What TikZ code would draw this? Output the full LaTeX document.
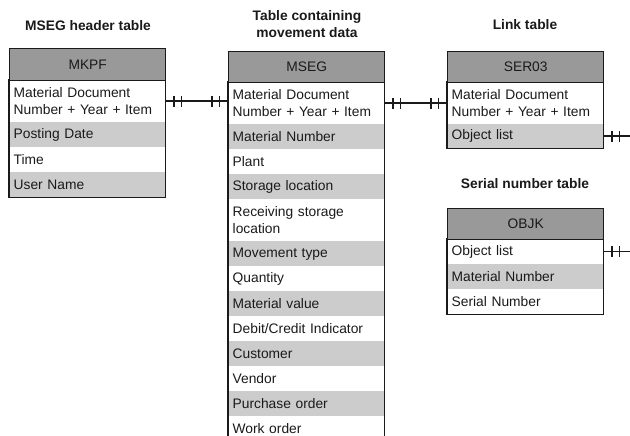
\documentclass[tikz,border=0pt]{standalone}
\usepackage{fontspec}
\setmainfont{Liberation Sans}
\usetikzlibrary{decorations.markings}
\definecolor{hdr}{HTML}{999999}
\definecolor{rowg}{HTML}{CCCCCC}
\definecolor{ink}{HTML}{1A1A1A}
\tikzset{
  row/.style={rectangle, anchor=north west, inner xsep=4.5pt, inner ysep=0pt,
    text width=147pt, align=left, font=\fontsize{13.8}{16.5}\selectfont, text=ink},
  hdrbox/.style={rectangle, anchor=north west, inner sep=0pt, minimum width=156pt,
    fill=hdr, draw=ink, line width=1.4pt, align=center,
    font=\fontsize{13.8}{16.5}\selectfont, text=ink},
  ttl/.style={align=center, font=\bfseries\fontsize{13.8}{16.5}\selectfont, text=ink},
  border/.style={draw=ink, line width=1.4pt},
  link/.style={draw=ink, line width=1.5pt},
  twobar/.style={postaction={decorate, decoration={markings,
    mark=at position 8.5pt with {\draw[ink, line width=1.4pt] (0,-5.5pt) -- (0,5.5pt);},
    mark=at position 16pt with {\draw[ink, line width=1.4pt] (0,-5.5pt) -- (0,5.5pt);}}}},
  twobarend/.style={postaction={decorate, decoration={markings,
    mark=at position -8.5pt with {\draw[ink, line width=1.4pt] (0,-5.5pt) -- (0,5.5pt);},
    mark=at position -16pt with {\draw[ink, line width=1.4pt] (0,-5.5pt) -- (0,5.5pt);}}}}
}
\begin{document}
\begin{tikzpicture}[x=1pt, y=-1pt]
\useasboundingbox (0,0) rectangle (630,436);
\coordinate (rightedge) at (630,0);

% titles
\node[ttl] (t1) at (88,26) {MSEG header table};
\node[ttl] (t2) at (307,24) {Table containing\\movement data};
\node[ttl] (t3) at (525,25) {Link table};
\node[ttl] (t4) at (525,184) {Serial number table};

% MKPF
\node[row, minimum height=42pt] (mkpf1) at (9,80) {Material Document\\Number + Year + Item};
\node[row, fill=rowg, minimum height=25pt] (mkpf2) at (9,122) {Posting Date};
\node[row, minimum height=25pt] (mkpf3) at (9,147) {Time};
\node[row, fill=rowg, minimum height=25pt] (mkpf4) at (9,172) {User Name};
\draw[border] (mkpf1.north west) rectangle (mkpf4.south east);
\node[hdrbox, minimum height=32pt] (mkpfh) at (9,48) {MKPF};

% MSEG
\node[row, minimum height=42pt] (mseg1) at (228,82) {Material Document\\Number + Year + Item};
\node[row, fill=rowg, minimum height=25pt] (mseg2) at (228,124) {Material Number};
\node[row, minimum height=25pt] (mseg3) at (228,149) {Plant};
\node[row, fill=rowg, minimum height=25pt] (mseg4) at (228,174) {Storage location};
\node[row, minimum height=42pt] (mseg5) at (228,199) {Receiving storage\\location};
\node[row, fill=rowg, minimum height=25pt] (mseg6) at (228,241) {Movement type};
\node[row, minimum height=25pt] (mseg7) at (228,266) {Quantity};
\node[row, fill=rowg, minimum height=25pt] (mseg8) at (228,291) {Material value};
\node[row, minimum height=25pt] (mseg9) at (228,316) {Debit/Credit Indicator};
\node[row, fill=rowg, minimum height=25pt] (mseg10) at (228,341) {Customer};
\node[row, minimum height=25pt] (mseg11) at (228,366) {Vendor};
\node[row, fill=rowg, minimum height=25pt] (mseg12) at (228,391) {Purchase order};
\node[row, minimum height=25pt] (mseg13) at (228,416) {Work order};
\draw[border] (mseg13.south west) -- (mseg1.north west) -- (mseg1.north east) -- (mseg13.south east);
\node[hdrbox, minimum height=31pt] (msegh) at (228,51) {MSEG};

% SER03
\node[row, minimum height=42pt] (ser1) at (447,82) {Material Document\\Number + Year + Item};
\node[row, fill=rowg, minimum height=24pt] (ser2) at (447,124) {Object list};
\draw[border] (ser1.north west) rectangle (ser2.south east);
\node[hdrbox, minimum height=31pt] (serh) at (447,51) {SER03};

% OBJK
\node[row, minimum height=25pt] (obj1) at (447,239) {Object list};
\node[row, fill=rowg, minimum height=25pt] (obj2) at (447,264) {Material Number};
\node[row, minimum height=25pt] (obj3) at (447,289) {Serial Number};
\draw[border] (obj1.north west) rectangle (obj3.south east);
\node[hdrbox, minimum height=31pt] (objh) at (447,208) {OBJK};

% connectors
\draw[link, twobar, twobarend] (mkpf1.east) -- (mkpf1.east -| mseg1.west);
\draw[link, twobar, twobarend] (mseg1.east) -- (mseg1.east -| ser1.west);
\draw[link, twobar] (ser2.east) -- (ser2.east -| rightedge);
\draw[link, twobar] (obj1.east) -- (obj1.east -| rightedge);
\end{tikzpicture}
\end{document}
